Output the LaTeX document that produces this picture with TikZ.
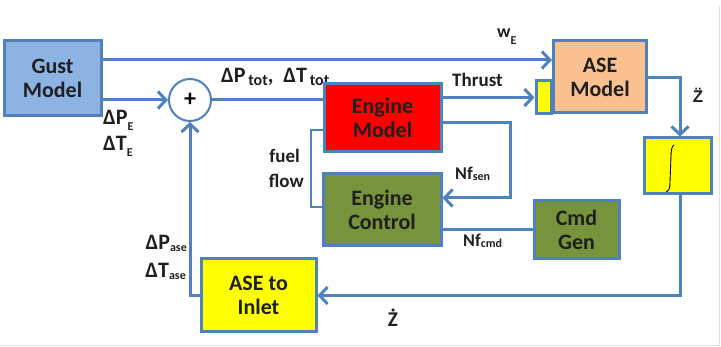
\documentclass[tikz,border=0pt]{standalone}
\usepackage{fontspec}
\setmainfont{Carlito}
\newfontfamily\lsans{Liberation Sans}
\usetikzlibrary{arrows.meta}
\definecolor{lb}{HTML}{4F81BD}
\definecolor{gustfill}{HTML}{8DB3E2}
\definecolor{asefill}{HTML}{FAC090}
\definecolor{engred}{HTML}{FF0000}
\definecolor{ctrlgreen}{HTML}{77933C}
\definecolor{yel}{HTML}{FFFF00}
\definecolor{txt}{HTML}{1F1F1F}
\newcommand\sbs[3]{\raisebox{-#2pt}{\fontsize{#1}{#1}\selectfont #3}}
\begin{document}
\begin{tikzpicture}[x=1pt,y=-1pt,
  blk/.style={draw=lb, line width=3pt, text=txt, font=\bfseries\fontsize{22}{24}\selectfont, align=center, inner sep=0pt},
  conn/.style={draw=lb, line width=3pt},
  thinconn/.style={draw=lb, line width=2pt},
  arr/.style={conn, -{Straight Barb[length=8pt,width=17pt]}},
  lbl/.style={text=txt, font=\bfseries\fontsize{22}{24}\selectfont, inner sep=0pt},
  slbl/.style={text=txt, font=\bfseries\fontsize{18}{20}\selectfont, inner sep=0pt}]
\useasboundingbox (0,0) rectangle (721,347);
\draw[black!12, line width=1pt] (0,345.5) -- (719.5,345.5) -- (719.5,6);

% label partly hidden behind engine box
\node[lbl, anchor=base west] (ltot) at (221,83) {ΔP\sbs{16}{3}{\,tot},\hspace{10pt}ΔT\sbs{16}{3}{\,tot}};

% blocks
\node[blk, fill=gustfill, minimum width=97pt, minimum height=75pt] (gust) at (52.5,78.5) {Gust\\Model};
\node[draw=lb, line width=2pt, circle, minimum size=42pt, inner sep=0pt, font=\bfseries\fontsize{24}{24}\selectfont] (sum) at (190,100) {+};
\node[blk, fill=engred, minimum width=117pt, minimum height=68pt] (eng) at (382.5,118) {Engine\\Model};
\node[blk, fill=ctrlgreen, minimum width=118pt, minimum height=72pt] (ctrl) at (382,210) {Engine\\Control};
\node[blk, fill=ctrlgreen, minimum width=85pt, minimum height=58pt] (cmd) at (576.5,230) {Cmd\\Gen};
\node[blk, fill=asefill, minimum width=93pt, minimum height=72pt] (ase) at (600,77) {ASE\\Model};
\node[draw=lb, line width=3pt, fill=yel, minimum width=15pt, minimum height=33pt, inner sep=0pt] (thr) at (543.5,97.5) {};
\node[draw=lb, line width=3pt, fill=yel, minimum width=67pt, minimum height=56pt, inner sep=0pt] (integ) at (677.5,166) {};
\node[blk, fill=yel, minimum width=115pt, minimum height=73pt] (inlet) at (258.5,295.5) {ASE to\\Inlet};

% integral sign
\draw[black, line width=0.9pt] (674,145) .. controls (672,146) and (671,150) .. (671,156) -- (670,182) .. controls (670,188) and (669,191) .. (666,192);

% coordinates
\coordinate (yw) at (0,60);
\coordinate (c1) at (510,123);
\coordinate (c2) at (510,198);
\coordinate (f1) at (311,207);
\coordinate (f2) at (311,130);
\coordinate (z1) at (680,78);

% connectors
\draw[arr] (gust.east |- yw) -- (ase.west |- yw);
\draw[arr] (gust.east |- sum) -- (sum.west);
\draw[conn] (sum.east) -- (eng.west |- sum);
\draw[arr] (eng.east |- thr) -- (thr.west);
\draw[arr] (ase.east |- z1) -- (z1) -- (integ.north -| z1);
\draw[arr] (integ.south -| z1) |- (inlet.east);
\draw[arr] (inlet.west) -| (sum.south);
\draw[arr] (eng.east |- c1) -- (c1) -- (c2) -- (ctrl.east |- c2);
\draw[conn] (cmd.west) -- (ctrl.east |- cmd);
\draw[thinconn] (ctrl.west |- f1) -- (f1) -- (f2) -- (eng.west |- f2);

% labels
\node[slbl, anchor=base west] (lwe) at (497,38) {w\sbs{12}{7}{E}};
\node[lbl, anchor=base west] (lpe) at (103,125) {ΔP\sbs{12}{6}{E}};
\node[lbl, anchor=base west] (lte) at (103,151) {ΔT\sbs{12}{6}{E}};
\node[slbl, anchor=base west, font=\bfseries\fontsize{19}{20}\selectfont] (lthr) at (452,87) {Thrust};
\node[slbl, anchor=base, font=\lsans\bfseries\fontsize{17}{20}\selectfont] (lzdd) at (698,103) {Z̈};
\node[slbl, anchor=base east, font=\bfseries\fontsize{19}{20}\selectfont] (lfu) at (300,163) {fuel};
\node[slbl, anchor=base east, font=\bfseries\fontsize{19}{20}\selectfont] (lfl) at (304,188) {flow};
\node[slbl, anchor=base west] (lnfs) at (455,180) {Nf\sbs{12}{1}{sen}};
\node[slbl, anchor=base west] (lnfc) at (463,247) {Nf\sbs{12}{1}{cmd}};
\node[lbl, anchor=base east] (lpa) at (187,250) {ΔP\sbs{12}{2}{ase}};
\node[lbl, anchor=base east] (lta) at (186,278) {ΔT\sbs{12}{2}{ase}};
\node[lbl, anchor=base, font=\bfseries\fontsize{21}{22}\selectfont] (lzd) at (393,327) {\.{Z}};
\end{tikzpicture}
\end{document}
